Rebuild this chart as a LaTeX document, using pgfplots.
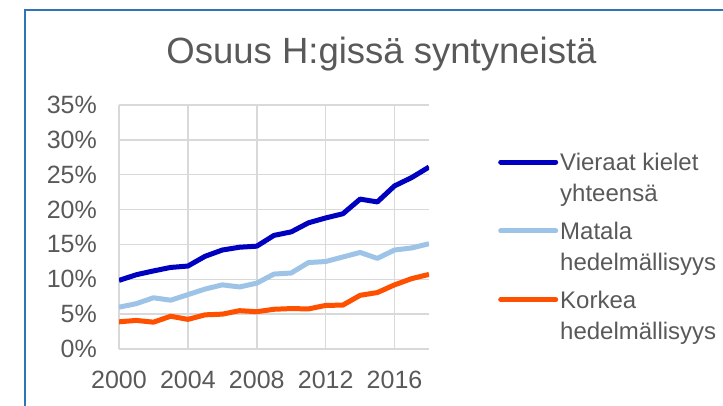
\documentclass[border=0pt]{standalone}
\usepackage{fontspec}
\setmainfont{Liberation Sans}
\usepackage{pgfplots}
\pgfplotsset{compat=1.18}
\definecolor{dblue}{HTML}{0000C0}
\definecolor{lblue}{HTML}{9DC3E6}
\definecolor{orng}{HTML}{FF5000}
\definecolor{txt}{HTML}{595959}
\definecolor{grd}{HTML}{D9D9D9}
\definecolor{framec}{HTML}{2E75B6}

\pgfplotstableread{
year vieraat matala korkea
2000 9.84 6.0 3.9
2001 10.65 6.5 4.1
2002 11.2 7.35 3.85
2003 11.7 7.0 4.7
2004 11.9 7.8 4.25
2005 13.3 8.6 4.9
2006 14.2 9.2 5.0
2007 14.6 8.9 5.5
2008 14.75 9.45 5.35
2009 16.3 10.75 5.7
2010 16.8 10.9 5.8
2011 18.1 12.4 5.75
2012 18.8 12.55 6.25
2013 19.4 13.2 6.3
2014 21.5 13.85 7.7
2015 21.1 13.0 8.1
2016 23.4 14.2 9.2
2017 24.6 14.5 10.1
2018 26.1 15.1 10.7
}\datatable

\begin{document}
\begin{tikzpicture}[x=1pt,y=1pt]
\useasboundingbox (0,-405) rectangle (723,0);
\begin{scope}
\clip (0,-405) rectangle (723,0);
\draw[framec, line width=2pt] (25,-9.5) rectangle (760,-440);
\end{scope}
\node[text=txt, font=\fontsize{36.5}{44}\selectfont, anchor=base, inner sep=0pt] at (381.5,-63) {Osuus H:gissä syntyneistä};
\begin{axis}[
  at={(119pt,-349pt)}, anchor=south west,
  scale only axis, width=310pt, height=244pt,
  xmin=2000, xmax=2018, ymin=0, ymax=35,
  xtick={2000,2004,...,2016}, ytick={0,5,...,35},
  grid=major, major grid style={grd, line width=1.5pt},
  axis line style={draw=none},
  major tick length=0pt,
  tick label style={text=txt, font=\fontsize{25}{30}\selectfont, inner sep=0pt},
  /pgf/number format/assume math mode=true,
  x tick label style={/pgf/number format/1000 sep={}},
  yticklabel={\pgfmathprintnumber{\tick}\%},
  xticklabel shift=22pt,
  yticklabel shift=22pt,
  legend style={at={(axis description cs:1.2226,0.81)}, anchor=north west, draw=none, fill=none,
    font=\fontsize{24}{28}\selectfont, text=txt, cells={align=left, anchor=west}, row sep=15pt,
    inner sep=0pt},
  legend image code/.code={\path[draw=none, fill=none] (0pt,-19pt) rectangle (55pt,19pt);\draw[#1, line width=5pt, line cap=round] (0pt,16.5pt) -- (55pt,16.5pt);},
  every axis plot/.append style={line width=5pt, line join=round},
]
\addplot[dblue] table[x=year, y=vieraat] {\datatable};
\addlegendentry{Vieraat kielet\\[3pt]yhteensä}
\addplot[lblue] table[x=year, y=matala] {\datatable};
\addlegendentry{Matala\\[3pt]hedelmällisyys}
\addplot[orng] table[x=year, y=korkea] {\datatable};
\addlegendentry{Korkea\\[3pt]hedelmällisyys}
\end{axis}
\end{tikzpicture}
\end{document}
